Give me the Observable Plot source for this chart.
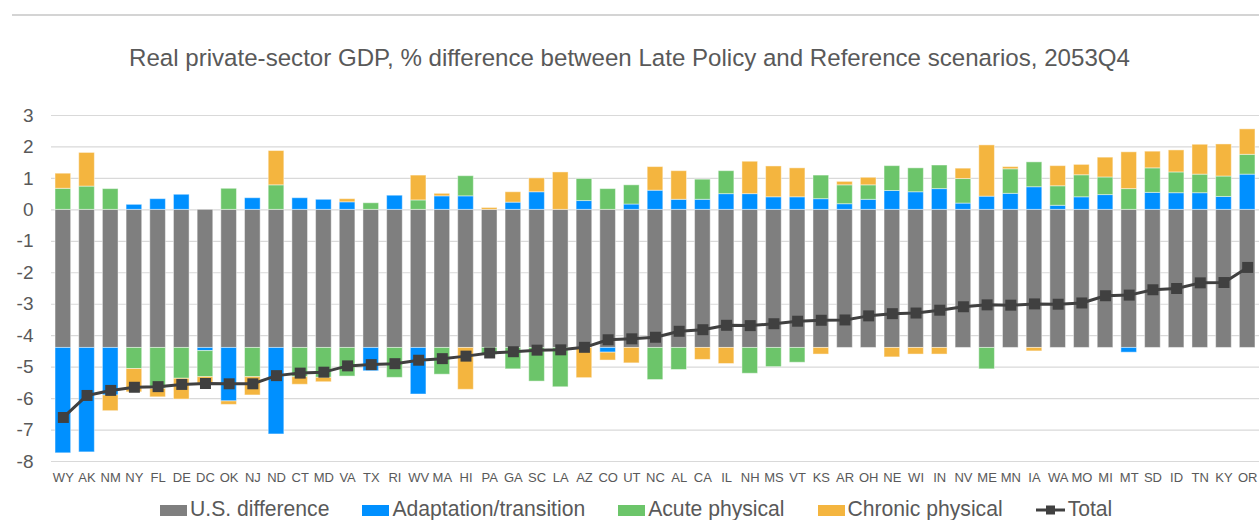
<!DOCTYPE html>
<html>
<head>
<meta charset="utf-8">
<script src="https://cdn.jsdelivr.net/npm/d3@7"></script>
<script src="https://cdn.jsdelivr.net/npm/@observablehq/plot@0.6"></script>
<style>
  html, body { margin: 0; padding: 0; background: #fff; }
  body { width: 1259px; height: 520px; position: relative; overflow: hidden;
         font-family: "Liberation Sans", Arial, sans-serif; color: #595959; }
  #topline { position: absolute; left: 12px; top: 14px; width: 1247px; height: 2px; background: #d4d4d4; }
  #title { position: absolute; left: 0; top: 46px; width: 1259px; text-align: center;
           font-size: 24.1px; line-height: 24px; color: #595959; white-space: nowrap; }
  #chart { position: absolute; left: 0; top: 90px; }
  #legend { position: absolute; left: 160px; top: 498px; height: 21px; display: flex; align-items: center;
            font-size: 21.15px; line-height: 21px; color: #595959; white-space: nowrap; }
  .item { display: flex; align-items: center; margin-right: 33px; }
  .sw { width: 27px; height: 11px; margin-right: 3px; margin-top: 3px; }
</style>
</head>
<body>
<div id="topline"></div>
<div id="title">Real private-sector GDP, % difference between Late Policy and Reference scenarios, 2053Q4</div>
<div id="chart"></div>
<div id="legend"></div>
<script>
const states = ["WY","AK","NM","NY","FL","DE","DC","OK","NJ","ND","CT","MD","VA","TX","RI","WV","MA","HI","PA","GA","SC","LA","AZ","CO","UT","NC","AL","CA","IL","NH","MS","VT","KS","AR","OH","NE","WI","IN","NV","ME","MN","IA","WA","MO","MI","MT","SD","ID","TN","KY","OR"];

const seriesNames = ["U.S. difference", "Adaptation/transition", "Acute physical", "Chronic physical"];
const seriesColors = ["#7f7f7f", "#0090ff", "#6cc56a", "#f4b53f"];

const usDifference = [-4.39,-4.39,-4.39,-4.39,-4.39,-4.39,-4.39,-4.39,-4.39,-4.39,-4.39,-4.39,-4.39,-4.39,-4.39,-4.39,-4.39,-4.39,-4.39,-4.39,-4.39,-4.39,-4.39,-4.39,-4.39,-4.39,-4.39,-4.39,-4.39,-4.39,-4.39,-4.39,-4.39,-4.39,-4.39,-4.39,-4.39,-4.39,-4.39,-4.39,-4.39,-4.39,-4.39,-4.39,-4.39,-4.39,-4.39,-4.39,-4.39,-4.39,-4.39];

const adaptation = [-3.35,-3.32,-1.51,0.16,0.34,0.48,-0.10,-1.70,0.37,-2.75,0.37,0.32,0.24,-0.74,0.45,-1.48,0.43,0.43,0.00,0.23,0.56,0.00,0.28,-0.15,0.17,0.61,0.32,0.32,0.50,0.50,0.40,0.40,0.34,0.18,0.32,0.60,0.56,0.66,0.20,0.42,0.51,0.72,0.13,0.40,0.47,-0.15,0.54,0.53,0.53,0.41,1.12];

const acute = [0.67,0.74,0.66,-0.67,-1.30,-0.98,-0.83,0.67,-0.93,0.78,-0.93,-0.95,-0.91,0.21,-0.95,0.30,-0.85,0.64,-0.22,-0.68,-1.07,-1.25,0.70,0.66,0.61,-1.02,-0.70,0.64,0.73,-0.82,-0.61,-0.47,0.75,0.60,0.46,0.79,0.76,0.75,0.78,-0.68,0.78,0.79,0.62,0.70,0.56,0.66,0.78,0.66,0.59,0.65,0.63];

const chronic = [0.48,1.07,-0.50,-0.74,-0.27,-0.66,-0.20,-0.11,-0.58,1.09,-0.24,-0.14,0.10,0.00,0.00,0.79,0.08,-1.33,0.06,0.33,0.44,1.19,-0.96,-0.25,-0.49,0.75,0.91,-0.38,-0.51,1.03,0.98,0.92,-0.21,0.11,0.24,-0.30,-0.21,-0.21,0.33,1.63,0.07,-0.11,0.64,0.33,0.63,1.17,0.53,0.70,0.95,1.02,0.81];

const total = [-6.60,-5.90,-5.74,-5.64,-5.62,-5.55,-5.52,-5.53,-5.53,-5.27,-5.19,-5.16,-4.96,-4.92,-4.89,-4.78,-4.73,-4.65,-4.55,-4.51,-4.46,-4.45,-4.37,-4.13,-4.10,-4.05,-3.86,-3.81,-3.67,-3.68,-3.62,-3.54,-3.51,-3.50,-3.37,-3.30,-3.28,-3.19,-3.08,-3.02,-3.03,-2.99,-3.00,-2.96,-2.73,-2.71,-2.54,-2.50,-2.32,-2.31,-1.83];

const yTicks = [3,2,1,0,-1,-2,-3,-4,-5,-6,-7,-8];

// long table, series-major so stacking follows series order
const seriesValues = [usDifference, adaptation, acute, chronic];
const bars = [];
seriesValues.forEach((vals, si) => {
  vals.forEach((v, i) => {
    if (v !== 0) bars.push({state: states[i], series: seriesNames[si], value: v});
  });
});
const totals = states.map((s, i) => ({state: s, total: total[i]}));

const chart = Plot.plot({
  width: 1259,
  height: 400,
  marginTop: 25,
  marginBottom: 29,
  marginLeft: 51,
  marginRight: 0,
  style: {fontFamily: "'Liberation Sans', Arial, sans-serif", color: "#595959", background: "transparent"},
  x: {domain: states, paddingInner: 0.34, paddingOuter: 0.17, label: null},
  y: {domain: [-8, 3], label: null},
  color: {domain: seriesNames, range: seriesColors},
  marks: [
    Plot.ruleY(yTicks, {stroke: "#d9d9d9", strokeWidth: 1.2}),
    Plot.axisY({ticks: yTicks, tickSize: 0, tickPadding: 18, fontSize: 19, tickFormat: d => String(d), label: null}),
    Plot.axisX({tickSize: 0, tickPadding: 11, fontSize: 13, label: null}),
    Plot.barY(bars, {x: "state", y: "value", fill: "series", stroke: "#ffffff", strokeOpacity: 0.45, strokeWidth: 1}),
    Plot.line(totals, {x: "state", y: "total", stroke: "#404040", strokeWidth: 3}),
    Plot.dot(totals, {x: "state", y: "total", symbol: "square", r: 6.2, fill: "#404040", stroke: "none"})
  ]
});
document.getElementById("chart").appendChild(chart);

// legend
const legend = document.getElementById("legend");
seriesNames.forEach((name, i) => {
  const it = document.createElement("div");
  it.className = "item";
  const sw = document.createElement("div");
  sw.className = "sw";
  sw.style.background = seriesColors[i];
  const tx = document.createElement("span");
  tx.textContent = name;
  it.appendChild(sw); it.appendChild(tx);
  legend.appendChild(it);
});
const tItem = document.createElement("div");
tItem.className = "item";
tItem.innerHTML = '<svg width="29" height="12" style="margin-right:3px;margin-top:3px"><line x1="0" y1="6" x2="29" y2="6" stroke="#404040" stroke-width="3"/><rect x="10" y="1.5" width="9" height="9" fill="#404040"/></svg><span>Total</span>';
legend.appendChild(tItem);
</script>
</body>
</html>
